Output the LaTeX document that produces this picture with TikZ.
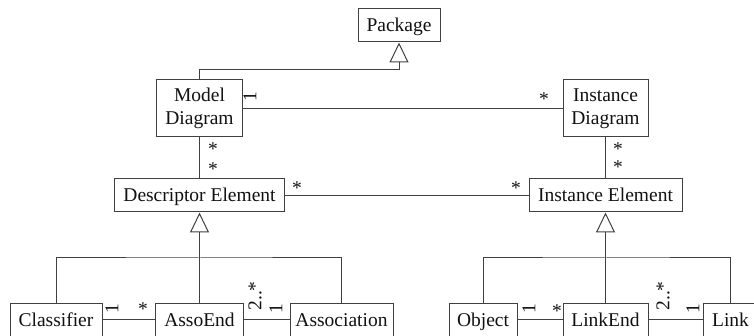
\documentclass[tikz,border=0pt]{standalone}
\usepackage{fontspec}
\setmainfont{Liberation Serif}
\usepackage{tikz}
\usetikzlibrary{arrows.meta}
\usepackage{xcolor}
\definecolor{umlLine}{HTML}{404040}
\definecolor{umlText}{HTML}{111111}

\begin{document}
\begin{tikzpicture}[x=1pt, y=-1pt, line width=1pt,
    clase/.style={draw=umlLine, fill=white, rectangle, inner xsep=4pt, inner ysep=0pt,
      minimum height=33pt, align=center, text=umlText, text height=17pt, text depth=4pt,
      font=\fontsize{19.5}{23}\selectfont},
    dosLineas/.style={text height=, text depth=, minimum height=57pt},
    mult/.style={inner sep=0pt, text=umlText, font=\fontsize{19.5}{23}\selectfont},
    gen/.style={draw=umlLine, -{Triangle[open, length=20pt, width=19pt]}},
    asoc/.style={draw=umlLine}]
  \useasboundingbox (0,0) rectangle (754,336);
  % Clases
  \node[clase, minimum width=82pt] (package) at (399,25.5) {Package};
  \node[clase, dosLineas, minimum width=86pt] (modelDiag) at (199.5,108.5) {Model\\Diagram};
  \node[clase, dosLineas, minimum width=85pt] (instDiag) at (605.5,108.5) {Instance\\Diagram};
  \node[clase, minimum width=170pt] (descElem) at (199.5,195.5) {Descriptor Element};
  \node[clase, minimum width=153pt] (instElem) at (605.5,195.5) {Instance Element};
  % Fila inferior (izquierda)
  \node[clase, minimum width=92pt] (classifier) at (56,319.5) {Classifier};
  \node[clase, minimum width=88pt] (assoEnd) at (199.5,319.5) {AssoEnd};
  \node[clase, minimum width=103pt] (association) at (341.5,319.5) {Association};
  % Fila inferior (derecha)
  \node[clase, minimum width=68pt] (object) at (483,319.5) {Object};
  \node[clase, minimum width=85pt] (linkEnd) at (605.5,319.5) {LinkEnd};
  \node[clase, minimum width=55pt] (link) at (730.5,319.5) {Link};
  % Generalizaciones
  \draw[gen] (modelDiag.north) -- ++(0,-10) -| (package.south);
  \coordinate (descGen) at (199.5,258);
  \coordinate (instGen) at (605.5,258);
  \draw[gen] (descGen) -- (descElem.south);
  \draw[asoc] (classifier.north) |- (descGen) -| (association.north);
  \draw[asoc] (assoEnd.north) -- (descGen);
  \draw[gen] (instGen) -- (instElem.south);
  \draw[asoc] (object.north) |- (instGen) -| (link.north);
  \draw[asoc] (linkEnd.north) -- (instGen);
  % Asociaciones
  \draw[asoc] (modelDiag) -- (instDiag);
  \draw[asoc] (modelDiag) -- (descElem);
  \draw[asoc] (instDiag) -- (instElem);
  \draw[asoc] (descElem) -- (instElem);
  \draw[asoc] (classifier) -- (assoEnd);
  \draw[asoc] (assoEnd) -- (association);
  \draw[asoc] (object) -- (linkEnd);
  \draw[asoc] (linkEnd) -- (link);
  % Multiplicidades
  \node[mult, rotate=90] (mModelUno) at (250,97) {1};
  \node[mult] (mInstMuchos) at (544,99.6) {*};
  \node[mult] (mModelDesc) at (213,149.6) {*};
  \node[mult] (mDescModel) at (213,169.6) {*};
  \node[mult] (mInstDiagElem) at (618,149.6) {*};
  \node[mult] (mInstElemDiag) at (618,167.6) {*};
  \node[mult] (mDescInst) at (297,188.6) {*};
  \node[mult] (mInstDesc) at (516,188.6) {*};
  \node[mult, rotate=90] (mClassUno) at (112,309) {1};
  \node[mult] (mAssoEndMuchos) at (143,309.6) {*};
  \node[mult, rotate=90] (mAssoEndDos) at (255,296) {2..*};
  \node[mult, rotate=90] (mAssocUno) at (276,309) {1};
  \node[mult, rotate=90] (mObjUno) at (529,309) {1};
  \node[mult] (mLinkEndMuchos) at (557,311.6) {*};
  \node[mult, rotate=90] (mLinkEndDos) at (663,296) {2..*};
  \node[mult, rotate=90] (mLinkUno) at (693,309) {1};
\end{tikzpicture}
\end{document}
